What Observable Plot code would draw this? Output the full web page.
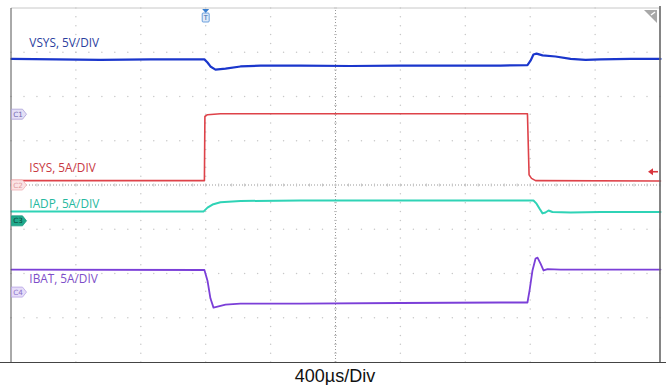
<!DOCTYPE html>
<html>
<head>
<meta charset="utf-8">
<script src="https://cdn.jsdelivr.net/npm/d3@7"></script>
<script src="https://cdn.jsdelivr.net/npm/@observablehq/plot@0.6"></script>
<style>
  html, body { margin: 0; padding: 0; background: #fff; }
  #chart svg { display: block; }
  #caption { font-family: "Liberation Sans", Arial, sans-serif; font-size: 18px; line-height: 18px; margin-top: 2px; text-align: center; width: 666px; padding-left: 4px; box-sizing: border-box; color: #111; }
</style>
</head>
<body>
<div id="chart"></div>
<div id="caption">400µs/Div</div>
<script>
// Time in µs (400 µs/div, 10 div), level in screen divisions (8 div)
const vsysT = [-2000,-1451,-1143,-811,-792,-774,-743,-681,-589,-465,-219,89,397,706,1014,1180,1199,1217,1236,1273,1353,1446,1538,1630,1815,2000];
const vsysV = [6.86,6.84,6.85,6.85,6.78,6.69,6.62,6.64,6.69,6.71,6.71,6.70,6.71,6.71,6.71,6.72,6.82,6.96,6.98,6.94,6.915,6.86,6.84,6.85,6.86,6.86];

const isysT = [-2000,-811,-808,-792,-712,1180,1190,1205,1230,2000];
const isysV = [4.11,4.11,5.56,5.60,5.62,5.62,4.24,4.16,4.11,4.10];

const iadpT = [-2000,-817,-792,-761,-712,-589,-219,397,1014,1217,1236,1254,1273,1291,1310,1334,1446,1630,2000];
const iadpV = [3.41,3.41,3.50,3.57,3.62,3.65,3.66,3.66,3.66,3.66,3.59,3.48,3.37,3.39,3.435,3.40,3.39,3.40,3.40];

const ibatT = [-2000,-811,-792,-774,-755,-724,-681,-589,-219,397,1014,1180,1193,1211,1230,1242,1260,1279,1304,1384,2000];
const ibatV = [2.10,2.09,1.85,1.45,1.24,1.27,1.31,1.33,1.33,1.345,1.356,1.356,1.63,2.08,2.35,2.37,2.24,2.08,2.11,2.10,2.10];

const labels = ["VSYS, 5V/DIV", "ISYS, 5A/DIV", "IADP, 5A/DIV", "IBAT, 5A/DIV"];
const labelLevel = [7.21, 4.38, 3.57, 1.88];
const channels = ["C1", "C2", "C3", "C4"];
const channelLevel = [5.60, 4.00, 3.19, 1.58];
const triggerTime = -800;
const timeDomain = [-2000, 2000];
const levelDomain = [0, 8];

const traceColors = ["#1a36cc", "#de4249", "#2fd3b6", "#7b3fd8"];
const labelColors = ["#2a3d9e", "#c8383f", "#25b89e", "#7d4ec9"];

const toRows = (T, V) => T.map((t, i) => ({t, v: V[i]}));
const traces = [toRows(vsysT, vsysV), toRows(isysT, isysV), toRows(iadpT, iadpV), toRows(ibatT, ibatV)];

// decorative oscilloscope graticule
function graticule(index, scales, values, dim) {
  const g = d3.create("svg:g");
  const x = scales.x, y = scales.y;
  const divX = d3.range(-2000, 2001, 400), divY = d3.range(0, 9, 1);
  for (const t of divX) {
    if (t === 0 || t === -2000 || t === 2000) continue;
    for (const v of d3.range(0, 8.001, 0.2)) g.append("circle").attr("cx", x(t)).attr("cy", y(v)).attr("r", 0.75).attr("fill", "#c8c8c8");
  }
  for (const v of divY) {
    if (v === 0 || v === 8 || v === 4) continue;
    for (const t of d3.range(-2000, 2000.1, 80)) g.append("circle").attr("cx", x(t)).attr("cy", y(v)).attr("r", 0.75).attr("fill", "#c8c8c8");
  }
  g.append("line").attr("x1", x(0)).attr("x2", x(0)).attr("y1", y(0)).attr("y2", y(8)).attr("stroke", "#999").attr("stroke-dasharray", "1,2");
  g.append("line").attr("x1", x(-2000)).attr("x2", x(2000)).attr("y1", y(4)).attr("y2", y(4)).attr("stroke", "#999").attr("stroke-dasharray", "1,2");
  for (const t of d3.range(-2000, 2000.1, 80)) g.append("line").attr("x1", x(t)).attr("x2", x(t)).attr("y1", y(4) - 1.5).attr("y2", y(4) + 1.5).attr("stroke", "#c4c4c4");
  for (const v of d3.range(0, 8.001, 0.2)) g.append("line").attr("x1", x(0) - 1.5).attr("x2", x(0) + 1.5).attr("y1", y(v)).attr("y2", y(v)).attr("stroke", "#c4c4c4");
  return g.node();
}

function frame(index, scales) {
  const g = d3.create("svg:g");
  const x = scales.x, y = scales.y;
  g.append("line").attr("x1", x(-2000)).attr("x2", x(2000)).attr("y1", y(8)).attr("y2", y(8)).attr("stroke", "#c8c8c8");
  g.append("line").attr("x1", x(-2000)).attr("x2", x(-2000)).attr("y1", y(0)).attr("y2", y(8)).attr("stroke", "#555");
  g.append("line").attr("x1", x(-2000) - 11).attr("x2", x(2000) + 6).attr("y1", y(0) + 0.5).attr("y2", y(0) + 0.5).attr("stroke", "#444");
  g.append("line").attr("x1", x(2000)).attr("x2", x(2000)).attr("y1", y(0)).attr("y2", y(8) - 2).attr("stroke", "#666").attr("stroke-width", 1.6);
  const cx = x(2000) - 3, cy = y(8) + 2;
  g.append("path").attr("d", `M${cx - 13},${cy} L${cx},${cy} L${cx},${cy + 13} Z`).attr("fill", "#a8a8a8");
  g.append("path").attr("d", `M${cx - 6},${cy + 5} L${cx - 2},${cy + 2}`).attr("stroke", "#fff").attr("stroke-width", 1.4);
  return g.node();
}

function markers(index, scales) {
  const g = d3.create("svg:g");
  const x = scales.x, y = scales.y;
  const fills = ["#e4e0f6", "#fbe3e4", "#1faa8c", "#e6ddf8"];
  const strokes = ["#a9a0d8", "#f0b0b4", "#1a9a80", "#b7a3e6"];
  const texts = ["#6f66b0", "#e09a9e", "#0c3e33", "#8a72c8"];
  channels.forEach((c, i) => {
    const yy = y(channelLevel[i]), x0 = x(-2000) + 0.5;
    g.append("path").attr("d", `M${x0},${yy - 5} L${x0 + 11},${yy - 5} L${x0 + 15},${yy} L${x0 + 11},${yy + 5} L${x0},${yy + 5} Z`)
      .attr("fill", fills[i]).attr("stroke", strokes[i]).attr("stroke-width", 0.8);
    g.append("text").attr("x", x0 + 6.5).attr("y", yy + 2.6).attr("text-anchor", "middle").attr("font-size", 7.2)
      .attr("font-family", "DejaVu Sans").attr("fill", texts[i]).text(c);
  });
  const tx = x(triggerTime), ty = y(8);
  g.append("path").attr("d", `M${tx - 3.5},${ty + 1} L${tx + 3.5},${ty + 1} L${tx},${ty + 5} Z`).attr("fill", "#3a7fd0");
  g.append("rect").attr("x", tx - 3.5).attr("y", ty + 5).attr("width", 7).attr("height", 9).attr("rx", 1).attr("fill", "#dfeaf8").attr("stroke", "#4a8ad6").attr("stroke-width", 0.8);
  g.append("text").attr("x", tx).attr("y", ty + 12.3).attr("text-anchor", "middle").attr("font-size", 6.5).attr("font-family", "DejaVu Sans").attr("fill", "#2a5fa8").text("T");
  const ax = x(2000) - 3, ay = y(4.3);
  g.append("path").attr("d", `M${ax - 9},${ay} L${ax - 4},${ay - 3.5} L${ax - 4},${ay + 3.5} Z`).attr("fill", "#d9363e");
  g.append("line").attr("x1", ax - 4).attr("x2", ax + 1).attr("y1", ay).attr("y2", ay).attr("stroke", "#d9363e").attr("stroke-width", 1.6);
  return g.node();
}

const labelRows = labels.map((l, i) => ({l, v: labelLevel[i], c: labelColors[i]}));

const plot = Plot.plot({
  width: 666,
  height: 365,
  marginLeft: 11,
  marginRight: 6,
  marginTop: 8,
  marginBottom: 3,
  x: {domain: timeDomain, axis: null},
  y: {domain: levelDomain, axis: null},
  marks: [
    graticule,
    Plot.line(traces[1], {x: "t", y: "v", stroke: traceColors[1], strokeWidth: 1.6}),
    Plot.line(traces[2], {x: "t", y: "v", stroke: traceColors[2], strokeWidth: 2}),
    Plot.line(traces[3], {x: "t", y: "v", stroke: traceColors[3], strokeWidth: 1.8}),
    Plot.line(traces[0], {x: "t", y: "v", stroke: traceColors[0], strokeWidth: 2.2}),
    Plot.text(labelRows, {x: () => -1890, y: "v", text: "l", fill: "c", textAnchor: "start", fontSize: 11.8, fontFamily: "Open Sans"}),
    frame,
    markers
  ]
});
document.getElementById("chart").append(plot);
</script>
</body>
</html>
